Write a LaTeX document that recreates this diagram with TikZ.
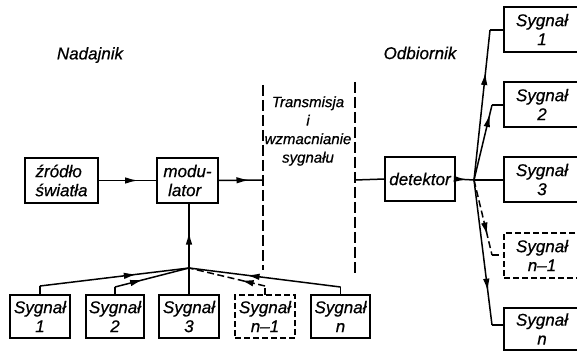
\documentclass[tikz,border=0pt]{standalone}
\usepackage{fontspec}
\setmainfont{Liberation Sans}
\newfontfamily\tfont[FakeBold=0.6]{Liberation Sans Italic}
\usetikzlibrary{arrows.meta,decorations.markings,calc}
\begin{document}
\begin{tikzpicture}[x=1pt,y=-1pt,
  lw/.style={line width=1.5pt},
  box/.style={draw,lw,inner sep=0pt,outer sep=0pt,minimum height=45pt,align=center,font=\fontsize{17}{19}\tfont},
  dbox/.style={box,dash pattern=on 6pt off 3pt},
  lbl/.style={font=\fontsize{17}{19}\tfont,inner sep=0pt},
  tlbl/.style={font=\fontsize{15}{18.5}\tfont,inner sep=0pt,align=center},
  conn/.style={lw},
  dconn/.style={lw,dash pattern=on 7pt off 3.5pt},
  vline/.style={line width=1.6pt,dash pattern=on 11pt off 4pt},
  arrowat/.style={postaction={decorate},decoration={markings,
     mark=at position #1 with {\arrow{Latex[length=13pt,width=6.5pt]}}}},
]
\useasboundingbox (0,0) rectangle (577,352);
\clip (0,0) rectangle (577,352);

% labels
\node[lbl] (nad) at (90,55) {Nadajnik};
\node[lbl] (odb) at (420,53) {Odbiornik};
\node[tlbl] (tr) at (308,131) {Transmisja\\i\\wzmacnianie\\sygnału};

% dashed channel lines
\coordinate (tlt) at (263,85);
\coordinate (tlb) at (263,270);
\coordinate (trt) at (355,82);
\coordinate (trb) at (355,275);
\draw[vline] (tlt) -- (tlb);
\draw[vline] (trt) -- (trb);
\coordinate (tin) at (263,180);
\coordinate (tout) at (355,180);

% transmitter boxes
\node[box,minimum width=73pt,align=left] (zr) at (61.5,180.5) {źródło\\światła};
\node[box,minimum width=61pt,align=left] (mod) at (187.5,180.5) {modu-\\\ lator};
\node[box,minimum width=70pt,minimum height=44pt] (det) at (420,179) {detektor};

% bottom signal boxes
\node[box,minimum width=60pt,minimum height=43pt] (b1) at (40,316.5) {Sygnał\\1};
\node[box,minimum width=58pt,minimum height=43pt] (b2) at (115,316.5) {Sygnał\\2};
\node[box,minimum width=60pt,minimum height=43pt] (b3) at (189,316.5) {Sygnał\\3};
\node[dbox,minimum width=60pt,minimum height=43pt] (b4) at (265,316.5) {Sygnał\\n–1};
\node[box,minimum width=59pt,minimum height=43pt] (b5) at (340.5,316.5) {Sygnał\\n};

% right signal boxes
\node[box,minimum width=76pt] (r1) at (542,29.5) {Sygnał\\1};
\node[box,minimum width=76pt] (r2) at (542,104.5) {Sygnał\\2};
\node[box,minimum width=76pt] (r3) at (542,179.5) {Sygnał\\3};
\node[dbox,minimum width=76pt] (r4) at (542,255.5) {Sygnał\\n–1};
\node[box,minimum width=76pt,minimum height=42pt] (r5) at (542,329) {Sygnał\\n};

% top chain
\draw[conn,arrowat=0.68] (zr.east) -- (mod.west);
\draw[conn,arrowat=0.7] (mod.east) -- (tin);
\draw[conn] (tout) -- (det.west);

% bottom junction
\coordinate (jb) at (189,268);
\draw[conn,arrowat=0.56] (jb) -- (jb |- mod.south);
\coordinate (c1) at ($(b1.north)+(0,-9)$);
\coordinate (c2) at ($(b2.north)+(0,-8)$);
\coordinate (c4) at ($(b4.north)+(0,-9)$);
\coordinate (c5) at ($(b5.north)+(0,-8)$);
\draw[conn] (b1.north) -- (c1);
\draw[conn,arrowat=0.65] (c1) -- (jb);
\draw[conn] (b2.north) -- (c2);
\draw[conn,arrowat=0.38] (c2) -- (jb);
\draw[conn] (b3.north) -- (jb);
\draw[dconn] (b4.north) -- (c4);
\draw[dconn,arrowat=0.32] (c4) -- (jb);
\draw[conn] (b5.north) -- (c5);
\draw[conn,arrowat=0.62] (c5) -- (jb);

% right junction
\coordinate (jr) at (474,180);
\draw[conn,arrowat=0.62] (det.east) -- (jr);
\coordinate (d1) at (490,30);
\coordinate (d2) at (492,105);
\coordinate (d4) at (492,255);
\coordinate (d5) at (492,325);
\draw[conn,arrowat=0.72] (jr) -- (d1);
\draw[conn] (d1) -- (d1 -| r1.west);
\draw[conn,arrowat=0.88] (jr) -- (d2);
\draw[conn] (d2) -- (d2 -| r2.west);
\draw[conn] (jr) -- (jr -| r3.west);
\draw[dconn,arrowat=0.74] (jr) -- (d4);
\draw[dconn] (d4) -- (d4 -| r4.west);
\draw[conn,arrowat=0.77] (jr) -- (d5);
\draw[conn] (d5) -- (d5 -| r5.west);
\end{tikzpicture}
\end{document}
